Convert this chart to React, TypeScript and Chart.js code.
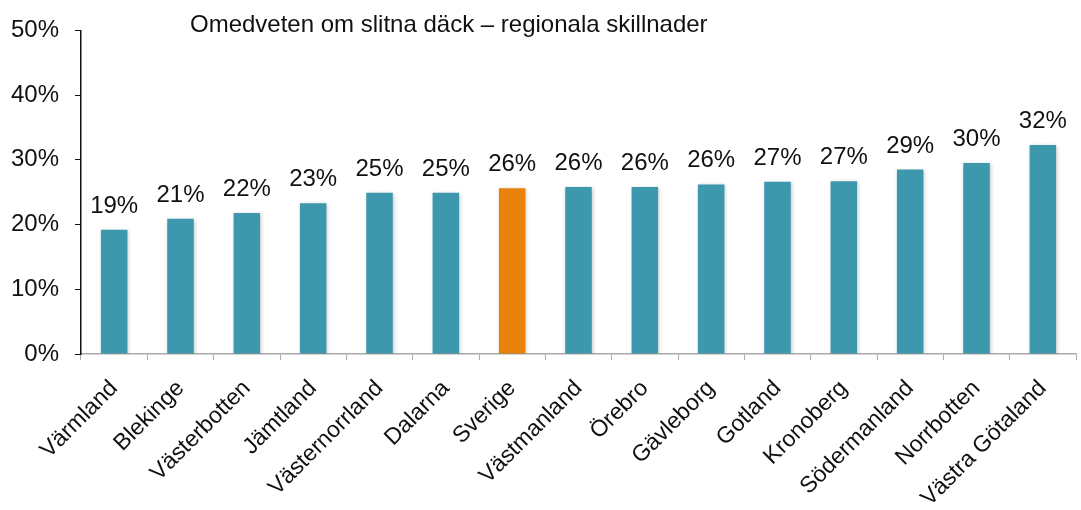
import React, { useEffect, useRef } from "react";
import { Chart, registerables } from "chart.js";

Chart.register(...registerables);

const TITLE = "Omedveten om slitna däck – regionala skillnader";
const categories = [
  "Värmland", "Blekinge", "Västerbotten", "Jämtland", "Västernorrland", "Dalarna", "Sverige",
  "Västmanland", "Örebro", "Gävleborg", "Gotland", "Kronoberg", "Södermanland", "Norrbotten", "Västra Götaland",
];
const values = [19.2, 20.9, 21.8, 23.3, 24.9, 24.9, 25.6, 25.8, 25.8, 26.2, 26.6, 26.7, 28.5, 29.5, 32.3];
const valueLabels = ["19%", "21%", "22%", "23%", "25%", "25%", "26%", "26%", "26%", "26%", "27%", "27%", "29%", "30%", "32%"];
const highlight = "Sverige";
const TEAL = "#3D97AD";
const ORANGE = "#E8820A";
const FONT = "'Liberation Sans', Arial, Helvetica, sans-serif";

export default function App() {
  const ref = useRef<HTMLCanvasElement | null>(null);
  useEffect(() => {
    document.body.style.margin = "0";
    const ctx = ref.current!;
    const shadowPlugin = {
      id: "barShadow",
      beforeDatasetsDraw(chart: any) {
        const c = chart.ctx;
        c.save();
        c.shadowColor = "rgba(0,0,0,0.22)";
        c.shadowBlur = 4;
        c.shadowOffsetX = 1;
        c.shadowOffsetY = 1;
      },
      afterDatasetsDraw(chart: any) {
        chart.ctx.restore();
      },
    };
    const labelPlugin = {
      id: "valueLabels",
      afterDatasetsDraw(chart: any) {
        const c = chart.ctx;
        const meta = chart.getDatasetMeta(0);
        c.save();
        c.shadowColor = "transparent";
        c.font = `24px ${FONT}`;
        c.fillStyle = "#111";
        c.textAlign = "center";
        c.textBaseline = "alphabetic";
        meta.data.forEach((bar: any, i: number) => {
          c.fillText(valueLabels[i], bar.x, bar.y - 17);
        });
        c.restore();
      },
    };
    const titlePlugin = {
      id: "customTitle",
      afterDraw(chart: any) {
        const c = chart.ctx;
        c.save();
        c.font = `24px ${FONT}`;
        c.fillStyle = "#111";
        c.textAlign = "left";
        c.textBaseline = "alphabetic";
        c.fillText(TITLE, chart.chartArea.left + 109, 32);
        c.restore();
      },
    };
    const chart = new Chart(ctx, {
      type: "bar",
      data: {
        labels: categories,
        datasets: [
          {
            data: values,
            backgroundColor: categories.map((c) => (c === highlight ? ORANGE : TEAL)),
            barPercentage: 0.8,
            categoryPercentage: 0.5,
          },
        ],
      },
      options: {
        responsive: false,
        animation: false,
        layout: { padding: { top: 26, right: 5, left: 0, bottom: 0 } },
        plugins: { legend: { display: false }, tooltip: { enabled: false }, title: { display: false } },
        scales: {
          x: {
            grid: { display: true, drawOnChartArea: false, tickLength: 6, color: "#aaa", offset: true },
            border: { color: "#aaa", width: 1.5 },
            ticks: {
              font: { family: FONT, size: 23 },
              color: "#111",
              minRotation: 45,
              maxRotation: 45,
              autoSkip: false,
              padding: 15,
            },
            afterFit(scale: any) {
              scale.height = 156;
            },
          },
          y: {
            min: 0,
            max: 50,
            grid: { display: true, drawOnChartArea: false, tickLength: 6, color: "#111" },
            border: { color: "#111", width: 1.5 },
            ticks: {
              stepSize: 10,
              font: { family: FONT, size: 24 },
              color: "#111",
              padding: 16,
              callback: (v: any) => `${v}%`,
            },
            afterFit(scale: any) {
              scale.width = 81;
            },
          },
        },
      },
      plugins: [shadowPlugin, labelPlugin, titlePlugin],
    } as any);
    return () => chart.destroy();
  }, []);
  return <canvas ref={ref} width={1081} height={510} style={{ display: "block" }} />;
}
